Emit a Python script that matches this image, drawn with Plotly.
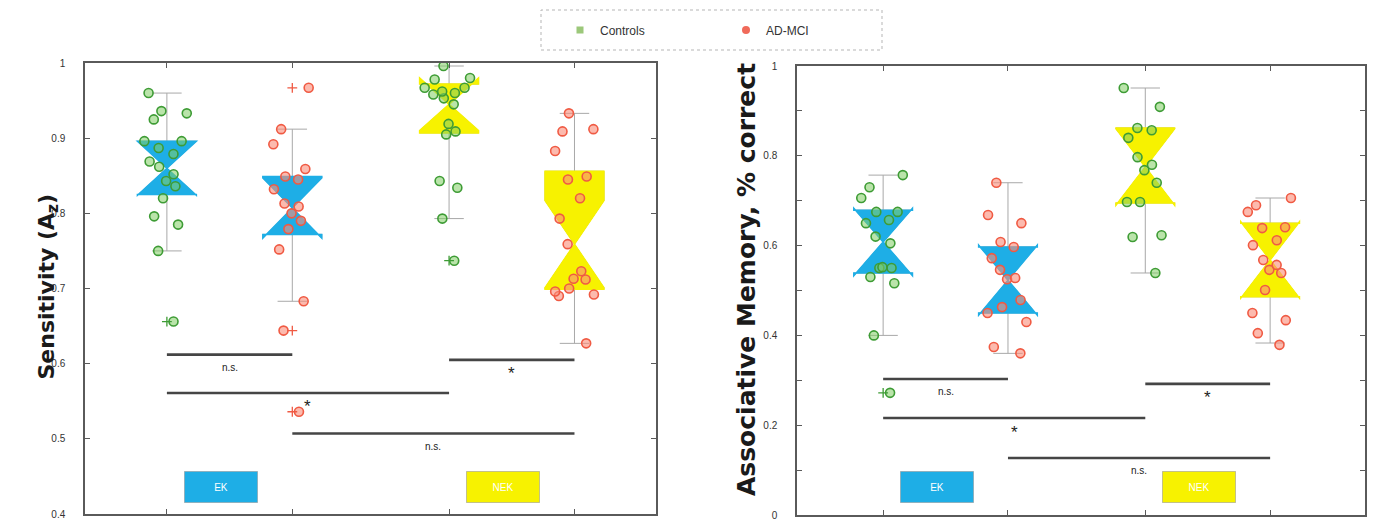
import plotly.graph_objects as go

# ---------------- data ----------------
conditions = ["EK", "NEK"]
groups = ["Controls", "AD-MCI"]

# Left panel: Sensitivity (Az) -- order: EK Controls, EK AD-MCI, NEK Controls, NEK AD-MCI
sens_ek_ctrl = [0.96, 0.936, 0.933, 0.925, 0.896, 0.896, 0.887, 0.879, 0.869, 0.862,
                0.852, 0.843, 0.836, 0.82, 0.796, 0.785, 0.75, 0.656]
sens_ek_mci = [0.967, 0.912, 0.892, 0.859, 0.849, 0.845, 0.832, 0.813, 0.809, 0.80,
               0.79, 0.779, 0.752, 0.683, 0.644, 0.536]
sens_nek_ctrl = [0.996, 0.98, 0.978, 0.967, 0.967, 0.962, 0.96, 0.958, 0.953, 0.945,
                 0.919, 0.909, 0.905, 0.843, 0.834, 0.793, 0.737]
sens_nek_mci = [0.933, 0.912, 0.909, 0.883, 0.849, 0.845, 0.82, 0.793, 0.759, 0.723,
                0.713, 0.712, 0.70, 0.696, 0.692, 0.69, 0.627]

sens_q1 = [0.825, 0.772, 0.907, 0.699]
sens_median = [0.860, 0.807, 0.945, 0.759]
sens_q3 = [0.896, 0.849, 0.972, 0.856]
sens_low_whisker = [0.750, 0.683, 0.793, 0.627]
sens_high_whisker = [0.960, 0.912, 0.996, 0.933]
sens_notch = [0.036, 0.040, 0.035, 0.058]
sens_outliers = [[0.656], [0.967, 0.644, 0.536], [0.737], []]

# Right panel: Associative memory, % correct
assoc_ek_ctrl = [0.757, 0.73, 0.706, 0.675, 0.675, 0.657, 0.65, 0.62, 0.605, 0.552,
                 0.55, 0.55, 0.53, 0.516, 0.40, 0.272]
assoc_ek_mci = [0.74, 0.668, 0.65, 0.608, 0.597, 0.572, 0.546, 0.528, 0.525, 0.479,
                0.463, 0.45, 0.43, 0.374, 0.36]
assoc_nek_ctrl = [0.951, 0.909, 0.862, 0.857, 0.84, 0.797, 0.78, 0.768, 0.74, 0.697,
                  0.697, 0.623, 0.619, 0.539]
assoc_nek_mci = [0.706, 0.69, 0.675, 0.641, 0.639, 0.612, 0.601, 0.568, 0.557, 0.546,
                 0.539, 0.501, 0.45, 0.434, 0.405, 0.379]

assoc_q1 = [0.539, 0.450, 0.695, 0.486]
assoc_median = [0.608, 0.523, 0.775, 0.568]
assoc_q3 = [0.679, 0.597, 0.862, 0.650]
assoc_low_whisker = [0.400, 0.360, 0.539, 0.383]
assoc_high_whisker = [0.757, 0.740, 0.951, 0.706]
assoc_notch = [0.075, 0.078, 0.085, 0.085]
assoc_outliers = [[0.272], [], [], []]

# significance comparisons: (group a, group b), bar level, label
sens_comparisons = [(0, 1), (2, 3), (0, 2), (1, 3)]
sens_levels = [0.612, 0.605, 0.561, 0.507]
sens_labels = ["n.s.", "*", "*", "n.s."]

assoc_comparisons = [(0, 1), (2, 3), (0, 2), (1, 3)]
assoc_levels = [0.303, 0.292, 0.216, 0.127]
assoc_labels = ["n.s.", "*", "*", "n.s."]

# ---------------- styling / layout constants ----------------
left_pos = [1, 2, 3.25, 4.25]
right_pos = [1, 2, 3.1, 4.1]
box_fill = ["#1eaee6", "#1eaee6", "#f7f200", "#f7f200"]
pt_line = ["#3e9c35", "#f05a43", "#3e9c35", "#f05a43"]
pt_fill = ["rgba(130,205,100,0.55)", "rgba(250,140,120,0.6)",
           "rgba(130,205,100,0.55)", "rgba(250,140,120,0.6)"]
FONT = "Liberation Sans, Arial, sans-serif"
TITLE_FONT = "DejaVu Sans, Liberation Sans, sans-serif"
W, H = 1373, 529

fig = go.Figure()


def add_panel(xa, ya, pos, pts, q1, med, q3, lw, hw, notch, outl, comps, levels, labels):
    for i in range(4):
        # whiskers (gray)
        fig.add_trace(go.Box(
            x=[pos[i]], q1=[q1[i]], median=[med[i]], q3=[q3[i]],
            lowerfence=[lw[i]], upperfence=[hw[i]], notchspan=[notch[i]],
            notched=True, notchwidth=0.5, width=0.47, whiskerwidth=0.5,
            fillcolor="rgba(0,0,0,0)", line=dict(color="#a8a8a8", width=1),
            boxpoints=False, showlegend=False, hoverinfo="skip",
            xaxis=xa, yaxis=ya))
        # coloured notched box + jittered points
        fig.add_trace(go.Box(
            x=[pos[i]], y=[pts[i]], q1=[q1[i]], median=[med[i]], q3=[q3[i]],
            lowerfence=[q1[i]], upperfence=[q3[i]], notchspan=[notch[i]],
            notched=True, notchwidth=0.5, width=0.47, whiskerwidth=0,
            fillcolor=box_fill[i], line=dict(color=box_fill[i], width=1.5),
            boxpoints="all", jitter=0.85, pointpos=0,
            marker=dict(symbol="circle", size=9, color=pt_fill[i],
                        line=dict(color=pt_line[i], width=1.6)),
            showlegend=False, hoverinfo="skip",
            xaxis=xa, yaxis=ya))
        if outl[i]:
            fig.add_trace(go.Scatter(
                x=[pos[i]] * len(outl[i]), y=outl[i], mode="markers",
                marker=dict(symbol="cross-thin", size=7,
                            line=dict(color=pt_line[i], width=1.3)),
                showlegend=False, hoverinfo="skip", xaxis=xa, yaxis=ya))
    for (a, b), lv, lab in zip(comps, levels, labels):
        fig.add_trace(go.Scatter(
            x=[pos[a], pos[b]], y=[lv, lv], mode="lines",
            line=dict(color="#454545", width=2.6),
            showlegend=False, hoverinfo="skip", xaxis=xa, yaxis=ya))
        star = lab == "*"
        fig.add_annotation(
            x=(pos[a] + pos[b]) / 2, y=lv, xref=xa, yref=ya, text=lab,
            showarrow=False, yanchor="middle",
            yshift=-14 if star else -13,
            font=dict(family=FONT, size=17 if star else 10, color="#222"))


add_panel("x", "y", left_pos,
          [sens_ek_ctrl, sens_ek_mci, sens_nek_ctrl, sens_nek_mci],
          sens_q1, sens_median, sens_q3, sens_low_whisker, sens_high_whisker,
          sens_notch, sens_outliers, sens_comparisons, sens_levels, sens_labels)
add_panel("x2", "y2", right_pos,
          [assoc_ek_ctrl, assoc_ek_mci, assoc_nek_ctrl, assoc_nek_mci],
          assoc_q1, assoc_median, assoc_q3, assoc_low_whisker, assoc_high_whisker,
          assoc_notch, assoc_outliers, assoc_comparisons, assoc_levels, assoc_labels)

# condition label boxes
cond_fill = ["#1eaee6", "#f7f200"]
for xa, ya, pos, ylab in [("x", "y", left_pos, 0.436), ("x2", "y2", right_pos, 0.062)]:
    for k, cond in enumerate(conditions):
        xc = (pos[2 * k] + pos[2 * k + 1]) / 2 - 0.07
        fig.add_annotation(
            x=xc, y=ylab, xref=xa, yref=ya, text=cond, showarrow=False,
            width=70, height=28, bgcolor=cond_fill[k],
            bordercolor="rgba(140,140,140,0.5)", borderwidth=1,
            font=dict(family=FONT, size=10, color="white"))

# legend entries
fig.add_trace(go.Scatter(x=[None], y=[None], mode="markers", name=groups[0],
                         marker=dict(symbol="square", size=7, color="#9cc87a"),
                         xaxis="x", yaxis="y"))
fig.add_trace(go.Scatter(x=[None], y=[None], mode="markers", name=groups[1],
                         marker=dict(symbol="circle", size=8, color="#f06a5a"),
                         xaxis="x", yaxis="y"))

# dotted legend frame
fig.add_shape(type="rect", xref="paper", yref="paper",
              x0=541 / W, x1=882 / W, y0=1 - 50 / H, y1=1 - 10 / H,
              line=dict(color="#b5b5b5", width=1, dash="dot"), layer="below")

axis_common = dict(showline=True, linecolor="#5a5a5a", linewidth=1.5, mirror="ticks",
                   ticks="inside", ticklen=5, tickcolor="#5a5a5a", showgrid=False,
                   zeroline=False)

fig.update_layout(
    width=W, height=H,
    margin=dict(l=0, r=0, t=0, b=0, autoexpand=False),
    paper_bgcolor="white", plot_bgcolor="white",
    font=dict(family=FONT, color="#333"),
    boxmode="overlay",
    xaxis=dict(domain=[85 / W, 656 / W], range=[0.347, 4.90],
               tickvals=left_pos, showticklabels=False, anchor="y", **axis_common),
    yaxis=dict(domain=[1 - 514 / H, 1 - 63 / H], range=[0.4, 1.0],
               tickvals=[0.4, 0.5, 0.6, 0.7, 0.8, 0.9, 1.0],
               ticktext=["0.4", "0.5", "0.6", "0.7", "0.8", "0.9", "1"],
               tickfont=dict(size=10, color="#333"), ticklabelstandoff=16,
               anchor="x", **axis_common),
    xaxis2=dict(domain=[797 / W, 1365 / W], range=[0.31, 4.86],
                tickvals=right_pos, showticklabels=False, anchor="y2", **axis_common),
    yaxis2=dict(domain=[1 - 515 / H, 1 - 66 / H], range=[0.0, 1.0],
                tickvals=[0, 0.2, 0.4, 0.6, 0.8, 1.0],
                ticktext=["0", "0.2", "0.4", "0.6", "0.8", "1"],
                minor=dict(tickvals=[0.1, 0.3, 0.5, 0.7, 0.9], ticks="inside",
                           ticklen=5, tickcolor="#5a5a5a"),
                tickfont=dict(size=10, color="#333"), ticklabelstandoff=16,
                anchor="x2", **axis_common),
    legend=dict(orientation="h", x=560 / W, y=1 - 30 / H, xanchor="left",
                yanchor="middle", bgcolor="rgba(0,0,0,0)", borderwidth=0,
                font=dict(family=FONT, size=12, color="#333"),
                entrywidth=121, entrywidthmode="pixels"),
)

# axis titles
fig.add_annotation(x=31 / W, y=1 - 287 / H, xref="paper", yref="paper",
                   text="<b>Sensitivity (A<sub>z</sub>)</b>", textangle=-90,
                   showarrow=False, font=dict(family=TITLE_FONT, size=22, color="#1a1a1a"))
fig.add_annotation(x=746 / W, y=1 - 280 / H, xref="paper", yref="paper",
                   text="<b>Associative Memory, % correct</b>", textangle=-90,
                   showarrow=False, font=dict(family=TITLE_FONT, size=25, color="#1a1a1a"))

fig.write_html("out.html", config={"displayModeBar": False},
               post_script="document.body.style.margin='0';document.body.style.overflow='hidden';")
